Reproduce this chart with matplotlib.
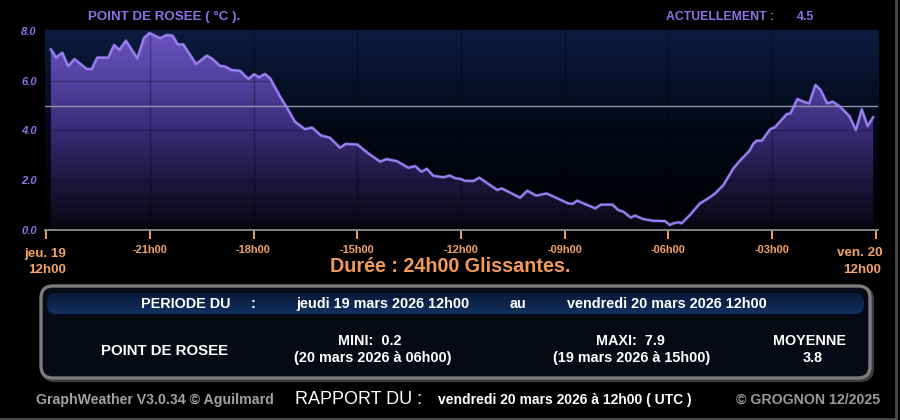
import numpy as np
import matplotlib
matplotlib.use("Agg")
import matplotlib.pyplot as plt
from matplotlib.patches import FancyBboxPatch, Polygon
from matplotlib.colors import LinearSegmentedColormap

plt.rcParams['font.family'] = ['Liberation Sans', 'DejaVu Sans']

# heures depuis jeu. 19 12h00, point de rosee en degres C
heures = [0.14, 0.29, 0.47, 0.64, 0.82, 1.18, 1.32, 1.48, 1.80, 1.97, 2.12, 2.31,
          2.64, 2.83, 2.99, 3.15, 3.30, 3.49, 3.66, 3.81, 3.97, 4.34, 4.65, 4.79,
          5.03, 5.18, 5.37, 5.61, 5.85, 6.02, 6.16, 6.33, 6.48, 6.77, 6.91, 7.20,
          7.49, 7.69, 7.95, 8.21, 8.50, 8.67, 9.00, 9.32, 9.66, 9.85, 10.14, 10.48,
          10.67, 10.86, 11.01, 11.20, 11.49, 11.68, 11.83, 11.99, 12.12, 12.36, 12.53,
          13.05, 13.18, 13.71, 13.92, 14.17, 14.48, 15.10, 15.23, 15.36, 15.88, 16.05,
          16.38, 16.55, 16.69, 16.91, 17.03, 17.27, 17.56, 17.90, 18.04, 18.14, 18.29,
          18.38, 18.62, 18.91, 19.15, 19.35, 19.59, 19.88, 20.07, 20.34, 20.45, 20.55,
          20.70, 20.94, 21.08, 21.42, 21.53, 21.73, 21.90, 22.07, 22.25, 22.40, 22.59,
          22.75, 22.96, 23.23, 23.42, 23.59, 23.76, 23.92]
rosee = [7.26, 6.94, 7.13, 6.59, 6.87, 6.47, 6.47, 6.93, 6.93, 7.44, 7.24, 7.61,
         6.90, 7.71, 7.92, 7.81, 7.71, 7.84, 7.81, 7.46, 7.46, 6.67, 7.01, 6.90,
         6.60, 6.57, 6.43, 6.40, 6.07, 6.26, 6.14, 6.27, 6.10, 5.36, 5.05, 4.35,
         4.05, 4.12, 3.80, 3.71, 3.31, 3.46, 3.44, 3.08, 2.75, 2.85, 2.77, 2.50,
         2.57, 2.34, 2.46, 2.18, 2.12, 2.19, 2.08, 2.05, 1.98, 1.97, 2.10,
         1.61, 1.67, 1.30, 1.58, 1.38, 1.47, 1.07, 1.05, 1.18, 0.87, 1.02,
         1.02, 0.80, 0.74, 0.50, 0.58, 0.44, 0.37, 0.36, 0.20, 0.27, 0.31,
         0.27, 0.60, 1.07, 1.27, 1.47, 1.81, 2.48, 2.79, 3.18, 3.46, 3.59,
         3.59, 4.05, 4.13, 4.66, 4.69, 5.27, 5.16, 5.09, 5.83, 5.63, 5.09,
         5.16, 4.96, 4.58, 4.02, 4.85, 4.18, 4.53]

tick_pos = [3, 6, 9, 12, 15, 18, 21]
tick_lab = ['-21h00', '-18h00', '-15h00', '-12h00', '-09h00', '-06h00', '-03h00']
y_ticks = [0, 2, 4, 6, 8]
seuil = 5.0

violet = '#8f72e8'
orange = '#f2a264'

fig = plt.figure(figsize=(9, 4.2), dpi=100, facecolor='black')

# calque en pixels pour le texte et le cadre
ov = fig.add_axes([0, 0, 1, 1])
ov.set_xlim(0, 900)
ov.set_ylim(420, 0)
ov.axis('off')
ov.set_zorder(0)

ax = fig.add_axes([45 / 900, 190 / 420, 833 / 900, 200 / 420])
ax.set_zorder(1)
ax.set_xlim(-0.03, 24.06)
ax.set_ylim(0, 8.04)

# fond degrade
bg = LinearSegmentedColormap.from_list('bg', ['#010104', '#030816', '#0b1c40'])
grad = np.linspace(0, 1, 256).reshape(-1, 1)
ax.imshow(grad, cmap=bg, aspect='auto', origin='lower',
          extent=[-0.03, 24.06, 0, 8.04], zorder=0)

# remplissage degrade sous la courbe
fill_cm = LinearSegmentedColormap.from_list(
    'fill', ['#07050f', '#1e173f', '#392b77', '#5241a0', '#6a55c0'])
im = ax.imshow(grad, cmap=fill_cm, aspect='auto', origin='lower',
               extent=[-0.03, 24.06, 0, 8.04], zorder=1)
verts = [(heures[0], 0)] + list(zip(heures, rosee)) + [(heures[-1], 0)]
poly = Polygon(verts, closed=True, fc='none', ec='none')
ax.add_patch(poly)
im.set_clip_path(poly)

for t in tick_pos:
    ax.axvline(t, color='black', alpha=0.3, lw=1, zorder=2)
for v in y_ticks[1:4]:
    ax.axhline(v, color='black', alpha=0.25, lw=1, zorder=2)

ax.axhline(seuil, color='#9494a8', lw=1, zorder=3)
ax.plot(heures, rosee, color='#9c84f4', lw=2.4, alpha=0.35, zorder=4)
ax.plot(heures, rosee, color='#9a80f2', lw=1.5, zorder=5)

for s in ['top', 'right', 'left']:
    ax.spines[s].set_visible(False)
ax.spines['bottom'].set_color('#8c8c8c')
ax.spines['bottom'].set_linewidth(1.3)

ax.set_xticks([0] + tick_pos + [24])
ax.set_xticklabels([''] + tick_lab + [''])
ax.tick_params(axis='x', colors=orange, length=6.5, width=1.4, pad=4,
               labelsize=7.9)
for lab in ax.get_xticklabels():
    lab.set_fontweight('bold')
ax.set_yticks(y_ticks)
ax.set_yticklabels(['%.1f' % v for v in y_ticks])
ax.tick_params(axis='y', length=0, pad=6, labelsize=8, labelcolor=violet)
for lab in ax.get_yticklabels():
    lab.set_fontstyle('italic')
    lab.set_fontweight('bold')

# titres
ov.text(88, 20, 'POINT DE ROSEE ( °C ).', color=violet, fontsize=9.6,
        fontweight='bold', va='baseline')
ov.text(666, 20, 'ACTUELLEMENT :', color=violet, fontsize=8.8,
        fontweight='bold', va='baseline')
ov.text(797, 20, '4.5', color=violet, fontsize=8.8, fontweight='bold',
        va='baseline')

ov.text(45, 256.5, 'jeu. 19', color=orange, fontsize=9.6, fontweight='bold',
        ha='center', va='baseline')
ov.text(47, 273, '12h00', color=orange, fontsize=9.6, fontweight='bold',
        ha='center', va='baseline')
ov.text(860, 256.5, 'ven. 20', color=orange, fontsize=9.6, fontweight='bold',
        ha='center', va='baseline')
ov.text(862, 273, '12h00', color=orange, fontsize=9.6, fontweight='bold',
        ha='center', va='baseline')
ov.text(450, 272, 'Durée : 24h00 Glissantes.', color='#f39a5a', fontsize=14.2,
        fontweight='bold', ha='center', va='baseline')

# panneau du bas
ov.add_patch(FancyBboxPatch((43, 288), 829, 92,
                            boxstyle='round,pad=0,rounding_size=12',
                            fc='none', ec='#3c3c3c', lw=3))
panel = FancyBboxPatch((41, 286), 829, 92,
                       boxstyle='round,pad=0,rounding_size=12',
                       fc='#060a14', ec='#7c7c7c', lw=2.4)
ov.add_patch(panel)
head = FancyBboxPatch((47, 293), 817, 21,
                      boxstyle='round,pad=0,rounding_size=9',
                      fc='none', ec='none')
ov.add_patch(head)
hcm = LinearSegmentedColormap.from_list('head', ['#081a38', '#123060'])
him = ov.imshow(grad, cmap=hcm, aspect='auto', origin='upper',
                extent=[47, 864, 314, 293], zorder=2)
him.set_clip_path(head)
ov.set_xlim(0, 900)
ov.set_ylim(420, 0)

w = dict(color='white', fontweight='bold', va='baseline', zorder=3)
ov.text(141, 308, 'PERIODE DU', fontsize=10.4, **w)
ov.text(253, 308, ':', fontsize=10.4, ha='center', **w)
ov.text(296, 308, 'jeudi 19 mars 2026 12h00', fontsize=10.4, **w)
ov.text(510, 308, 'au', fontsize=10.4, **w)
ov.text(567, 308, 'vendredi 20 mars 2026 12h00', fontsize=10.4, **w)

ov.text(101, 355, 'POINT DE ROSEE', fontsize=10.8, **w)
ov.text(370, 345, 'MINI:  0.2', fontsize=10.4, ha='center', **w)
ov.text(373, 362, '(20 mars 2026 à 06h00)', fontsize=10.4, ha='center', **w)
ov.text(630, 345, 'MAXI:  7.9', fontsize=10.4, ha='center', **w)
ov.text(632, 362, '(19 mars 2026 à 15h00)', fontsize=10.4, ha='center', **w)
ov.text(810, 345, 'MOYENNE', fontsize=10.4, ha='center', **w)
ov.text(813, 362, '3.8', fontsize=10.4, ha='center', **w)

# pied de page
ov.text(36, 404, 'GraphWeather V3.0.34 © Aguilmard', color='#a0a0a0',
        fontsize=10.2, fontweight='bold', va='baseline')
ov.text(295, 404, 'RAPPORT DU :', color='white', fontsize=13, va='baseline')
ov.text(438, 404, 'vendredi 20 mars 2026 à 12h00 ( UTC )', color='white',
        fontsize=10, fontweight='bold', va='baseline')
ov.text(736, 404, '© GROGNON 12/2025', color='#9a9a9a', fontsize=10.2,
        fontweight='bold', va='baseline')

ov.plot([896, 896], [0, 419], color='#4a4a4a', lw=2)
ov.plot([0, 896], [418.5, 418.5], color='#4a4a4a', lw=2)

fig.savefig('out.png', dpi=100, facecolor='black')
